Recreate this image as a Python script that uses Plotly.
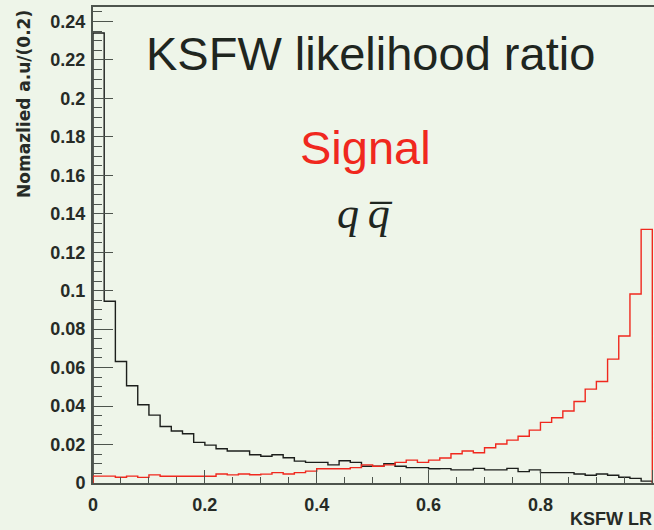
import numpy as np
import plotly.graph_objects as go

# ---- data (normalized per 0.02 bin, 50 bins over [0,1]) ----
qq_values = [0.234, 0.0945, 0.0632, 0.0506, 0.0407, 0.0353, 0.0294, 0.0270, 0.0256, 0.0211,
             0.0197, 0.0178, 0.0166, 0.0166, 0.0147, 0.0139, 0.0147, 0.0131, 0.0114, 0.0107,
             0.0107, 0.0094, 0.0116, 0.0107, 0.0087, 0.0087, 0.0100, 0.0087, 0.0080, 0.0080,
             0.0074, 0.0075, 0.0068, 0.0068, 0.0076, 0.0068, 0.0068, 0.0076, 0.0059, 0.0068,
             0.0054, 0.0054, 0.0054, 0.0047, 0.0040, 0.0047, 0.0040, 0.0030, 0.0024, 0.0010]
signal_values = [0.0036, 0.0036, 0.0030, 0.0036, 0.0029, 0.0042, 0.0035, 0.0035, 0.0035, 0.0035,
                 0.0035, 0.0047, 0.0042, 0.0047, 0.0043, 0.0046, 0.0054, 0.0047, 0.0054, 0.0062,
                 0.0074, 0.0074, 0.0074, 0.0080, 0.0094, 0.0087, 0.0094, 0.0107, 0.0119, 0.0107,
                 0.0119, 0.0130, 0.0152, 0.0166, 0.0157, 0.0183, 0.0203, 0.0223, 0.0243, 0.0275,
                 0.0315, 0.0339, 0.0374, 0.0424, 0.0488, 0.0528, 0.0644, 0.0764, 0.0983, 0.1319]
x_min, x_max, n_bins = 0.0, 1.0, 50
x_tick_vals = [0, 0.2, 0.4, 0.6, 0.8, 1.0]
x_tick_text = ["0", "0.2", "0.4", "0.6", "0.8", "1"]
y_tick_vals = [0, 0.02, 0.04, 0.06, 0.08, 0.10, 0.12, 0.14, 0.16, 0.18, 0.20, 0.22, 0.24]
y_tick_text = ["0", "0.02", "0.04", "0.06", "0.08", "0.1", "0.12", "0.14", "0.16", "0.18", "0.2", "0.22", "0.24"]

edges = np.linspace(x_min, x_max, n_bins + 1)


def step_xy(vals):
    xs = [edges[0]] + list(edges[:-1]) + [edges[-1], edges[-1]]
    ys = [0] + list(vals) + [vals[-1], 0]
    return xs, ys


BG = "#EEF5E9"
AXC = "#4d544d"

fig = go.Figure()
xs, ys = step_xy(qq_values)
fig.add_trace(go.Scatter(x=xs, y=ys, mode="lines", line=dict(shape="hv", color="#1c1f1c", width=1.4),
                         showlegend=False, hoverinfo="skip", cliponaxis=False))
xs, ys = step_xy(signal_values)
fig.add_trace(go.Scatter(x=xs, y=ys, mode="lines", line=dict(shape="hv", color="#f0281e", width=1.4),
                         showlegend=False, hoverinfo="skip", cliponaxis=False))

lab_font = dict(family="Liberation Sans", size=18, color="#262b26", weight="bold")

fig.update_layout(
    width=654, height=530,
    margin=dict(l=93, r=0, t=7, b=47),
    paper_bgcolor=BG, plot_bgcolor=BG,
    showlegend=False,
    xaxis=dict(range=[x_min, 1.003], tickvals=x_tick_vals, ticktext=x_tick_text,
               ticks="inside", ticklen=13, tickwidth=1, tickcolor=AXC,
               minor=dict(dtick=0.05, ticks="inside", ticklen=6, tickcolor=AXC, tickwidth=1, showgrid=False),
               showgrid=False, zeroline=False, showline=True, linecolor=AXC, linewidth=2, mirror=True,
               tickfont=lab_font, ticklabelstandoff=4),
    yaxis=dict(range=[0, 0.2475], tickvals=y_tick_vals, ticktext=y_tick_text,
               ticks="inside", ticklen=20, tickwidth=1, tickcolor=AXC,
               minor=dict(dtick=0.005, ticks="inside", ticklen=9, tickcolor=AXC, tickwidth=1, showgrid=False),
               showgrid=False, zeroline=False, showline=True, linecolor=AXC, linewidth=2, mirror=False,
               tickfont=lab_font, ticklabelstandoff=2),
)

fig.add_annotation(x=0.497, y=0.2234, xref="x", yref="y", text="KSFW likelihood ratio", showarrow=False,
                   xanchor="center", yanchor="middle",
                   font=dict(family="Liberation Sans", size=47, color="#1f261f"))
fig.add_annotation(x=0.487, y=0.1747, xref="x", yref="y", text="Signal", showarrow=False,
                   xanchor="center", yanchor="middle",
                   font=dict(family="Liberation Sans", size=47, color="#f0281e"))
fig.add_annotation(x=0.487, y=0.140, xref="x", yref="y", text="<i>q\u2009q\u0305</i>", showarrow=False,
                   xanchor="center", yanchor="middle",
                   font=dict(family="Liberation Serif", size=44, color="#1f261f"))
# axis titles placed ROOT-style at the axis ends
fig.add_annotation(x=0.999, y=-0.0985, xref="paper", yref="paper", text="<b>KSFW LR</b>", showarrow=False,
                   xanchor="right", yanchor="bottom", borderpad=0,
                   font=dict(family="Liberation Sans", size=18, color="#262b26"))
fig.add_annotation(x=-0.123, y=0.998, xref="paper", yref="paper", text="<b>Nomazlied a.u/(0.2)</b>", showarrow=False,
                   textangle=-90, xanchor="center", yanchor="top",
                   font=dict(family="DejaVu Sans", size=17, color="#262b26"))

fig.write_html("out.html")
